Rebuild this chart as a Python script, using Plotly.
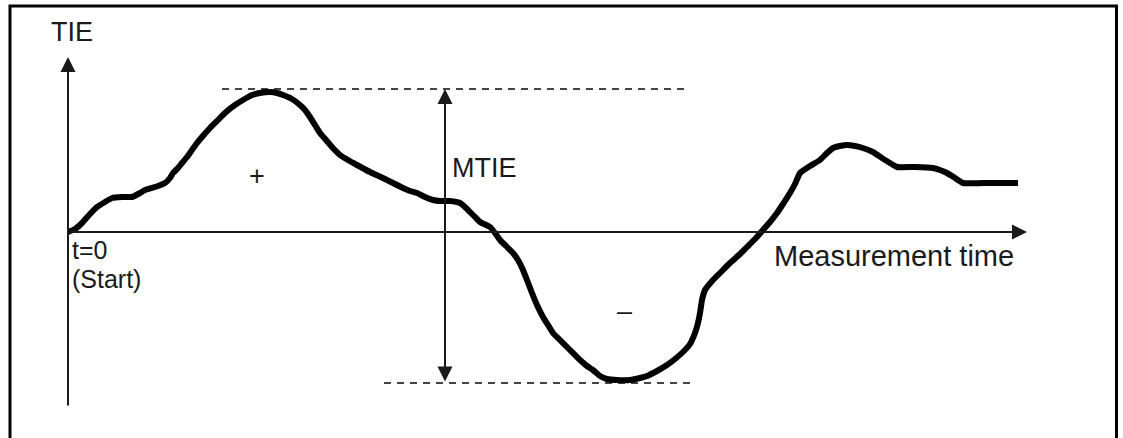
import plotly.graph_objects as go

# TIE curve (time units, TIE units; origin = t=0 start point)
time = [0, 7, 14, 22, 29, 37, 44, 54, 64, 72, 77, 87, 97, 102, 105, 110, 114, 119, 124, 129,
        134, 142, 150, 158, 167, 175, 184, 192, 202, 209, 215, 224, 232, 237, 242, 247, 252,
        258, 264, 272, 280, 289, 302, 315, 325, 335, 342, 349, 357, 365, 372, 382, 392, 397,
        402, 407, 412, 422, 427, 432, 439, 445, 450, 455, 459, 464, 469, 475, 480, 485, 492,
        502, 512, 519, 525, 532, 539, 549, 562, 572, 579, 589, 599, 607, 615, 622, 627, 630,
        632, 634, 637, 645, 652, 662, 672, 679, 687, 695, 702, 709, 715, 722, 727, 732, 742,
        752, 759, 765, 772, 779, 787, 795, 805, 817, 829, 847, 865, 872, 879, 887, 895, 922, 950]
tie = [0, 3, 9, 18, 25, 30, 34, 35, 35, 39, 42, 45, 49, 54, 59, 64, 69, 75, 82, 89,
       95, 104, 112, 120, 127, 132, 137, 139, 140, 139, 137, 133, 127, 122, 115, 107, 99,
       92, 85, 77, 72, 67, 60, 54, 49, 44, 41, 39, 35, 32, 31, 31, 29, 25,
       20, 15, 10, 5, -1, -8, -15, -21, -28, -38, -48, -61, -73, -85, -93, -101, -108,
       -118, -128, -134, -138, -144, -147, -148, -148, -146, -144, -139, -133, -127, -120, -112, -101, -91,
       -81, -68, -58, -48, -41, -31, -22, -15, -7, 2, 10, 19, 28, 39, 48, 59, 66,
       72, 79, 84, 86, 87, 86, 84, 80, 72, 65, 65, 64, 62, 59, 54, 49, 49, 49]

# MTIE reference levels
mtie_t = 377
tie_max = 143
tie_min = -151
top_span = [154, 617]
bottom_span = [316, 625]

# axis extents
t_axis_end = 959
tie_axis = [-175, 175]

# labels
labels = ["TIE", "t=0", "(Start)", "+", "MTIE", "–", "Measurement time"]

fig = go.Figure()

# dashed reference lines
fig.add_trace(go.Scatter(x=top_span, y=[tie_max, tie_max], mode="lines",
                         line=dict(color="#444444", width=2, dash="7px,6px"),
                         hoverinfo="skip"))
fig.add_trace(go.Scatter(x=bottom_span, y=[tie_min, tie_min], mode="lines",
                         line=dict(color="#444444", width=2, dash="7px,6px"),
                         hoverinfo="skip"))

# the TIE curve
fig.add_trace(go.Scatter(x=time, y=tie, mode="lines",
                         line=dict(color="black", width=6, shape="spline", smoothing=0.4),
                         hoverinfo="skip"))

ann = []
arrow_common = dict(xref="x", yref="y", axref="x", ayref="y", text="",
                    showarrow=True, arrowhead=2, arrowwidth=2, arrowsize=1.5,
                    arrowcolor="#1a1a1a", standoff=0, startstandoff=0)
# time axis
ann.append(dict(x=t_axis_end, y=0, ax=0, ay=0, **arrow_common))
# TIE axis
ann.append(dict(x=0, y=tie_axis[1], ax=0, ay=tie_axis[0], **arrow_common))
# MTIE double arrow
ann.append(dict(x=mtie_t, y=tie_max, ax=mtie_t, ay=tie_min, arrowside="end+start",
                startarrowhead=2, startarrowsize=1.5, **arrow_common))

label_pos = [
    (4, 200, "center", 27),
    (3, -18, "left", 25),
    (3, -47, "left", 25),
    (189, 56, "center", 27),
    (383, 64, "left", 27),
    (556, -79, "center", 27),
    (705, -24, "left", 29),
]
for txt, (x, y, xa, sz) in zip(labels, label_pos):
    ann.append(dict(x=x, y=y, xref="x", yref="y", text=txt, showarrow=False,
                    xanchor=xa, yanchor="middle", align="left", borderpad=0,
                    font=dict(family="Liberation Sans, Arial, sans-serif", size=sz,
                              color="#1a1a1a")))

fig.update_layout(
    width=1123, height=438,
    margin=dict(l=0, r=0, t=0, b=0),
    paper_bgcolor="white", plot_bgcolor="white",
    showlegend=False,
    xaxis=dict(range=[-68, 1055], visible=False, fixedrange=True),
    yaxis=dict(range=[-206, 232], visible=False, fixedrange=True),
    annotations=ann,
    shapes=[dict(type="rect", xref="paper", yref="paper",
                 x0=10 / 1123, x1=1116.5 / 1123, y0=-0.1, y1=1 - 6 / 438,
                 line=dict(color="black", width=3), layer="below")],
)

fig.write_html("out.html", config={"displayModeBar": False},
               post_script="document.body.style.margin='0';document.body.style.overflow='hidden';")
